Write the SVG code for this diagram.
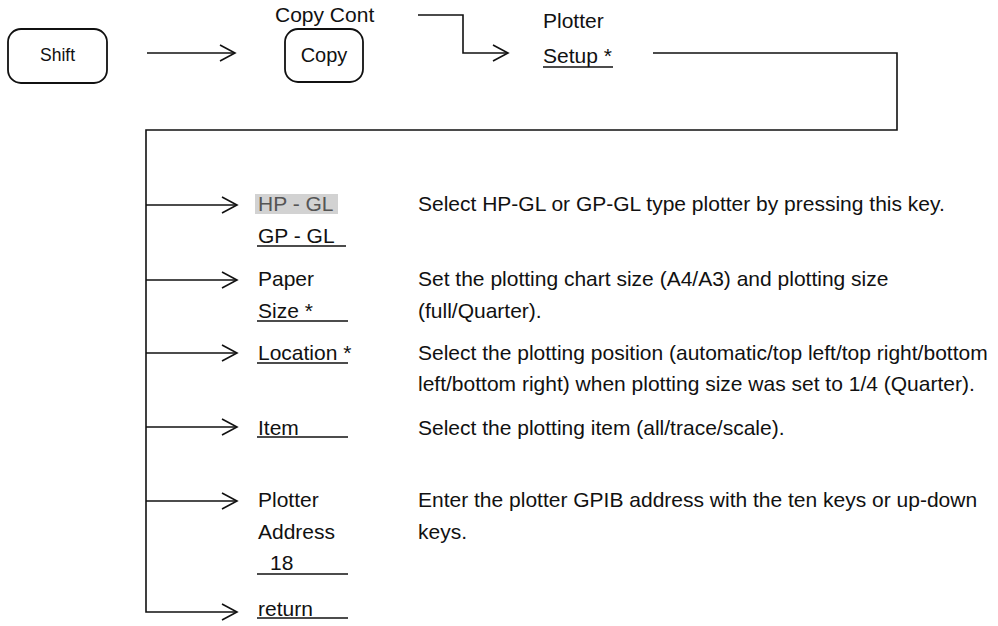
<svg xmlns="http://www.w3.org/2000/svg" width="998" height="626" viewBox="0 0 998 626">
<style>
  text { font-family: "Liberation Sans", Arial, sans-serif; font-size: 21px; fill: #111; }
  .key { fill: #fff; stroke: #111; stroke-width: 1.8; }
  .ln { fill: none; stroke: #111; stroke-width: 1.6; }
  .ul { stroke: #111; stroke-width: 1.5; }
</style>
<defs>
  <marker id="arr" viewBox="0 0 18 18" refX="16" refY="9" markerWidth="18" markerHeight="18" markerUnits="userSpaceOnUse" orient="auto">
    <path d="M1,1 L16,9 L1,17" fill="none" stroke="#111" stroke-width="1.6"/>
  </marker>
</defs>
<rect width="998" height="626" fill="#fff"/>

<g id="connectors">
  <line class="ln" x1="147" y1="53" x2="235" y2="53" marker-end="url(#arr)"/>
  <polyline class="ln" points="418,15 463,15 463,53 508,53" marker-end="url(#arr)"/>
  <polyline class="ln" points="653,53 897,53 897,130 146,130 146,612 237,612" marker-end="url(#arr)"/>
  <line class="ln" x1="146" y1="205" x2="237" y2="205" marker-end="url(#arr)"/>
  <line class="ln" x1="146" y1="280" x2="237" y2="280" marker-end="url(#arr)"/>
  <line class="ln" x1="146" y1="353" x2="237" y2="353" marker-end="url(#arr)"/>
  <line class="ln" x1="146" y1="427" x2="237" y2="427" marker-end="url(#arr)"/>
  <line class="ln" x1="146" y1="501" x2="237" y2="501" marker-end="url(#arr)"/>
</g>

<g id="shift">
  <rect class="key" x="8" y="29" width="99" height="54" rx="13"/>
  <text x="57.5" y="61" text-anchor="middle" style="font-size:17.5px">Shift</text>
</g>

<g id="copy">
  <text x="275" y="22">Copy Cont</text>
  <rect class="key" x="285" y="29" width="78" height="53" rx="13"/>
  <text x="324" y="62" text-anchor="middle" style="font-size:20px">Copy</text>
</g>

<g id="plotter-setup">
  <text x="543" y="28">Plotter</text>
  <text x="543" y="63">Setup *</text>
  <line class="ul" x1="543" y1="67" x2="613" y2="67"/>
</g>

<g id="hpgl">
  <rect x="255" y="194" width="83" height="20" fill="#d2d2d2"/>
  <text x="258" y="211" style="fill:#555">HP - GL</text>
  <text x="258" y="243">GP - GL</text>
  <line class="ul" x1="257" y1="246" x2="346" y2="246"/>
  <text x="418" y="211">Select HP-GL or GP-GL type plotter by pressing this key.</text>
</g>

<g id="paper-size">
  <text x="258" y="286">Paper</text>
  <text x="258" y="318">Size *</text>
  <line class="ul" x1="257" y1="321" x2="348" y2="321"/>
  <text x="418" y="286">Set the plotting chart size (A4/A3) and plotting size</text>
  <text x="418" y="318">(full/Quarter).</text>
</g>

<g id="location">
  <text x="258" y="360">Location *</text>
  <line class="ul" x1="257" y1="363" x2="348" y2="363"/>
  <text x="418" y="360">Select the plotting position (automatic/top left/top right/bottom</text>
  <text x="418" y="391">left/bottom right) when plotting size was set to 1/4 (Quarter).</text>
</g>

<g id="item">
  <text x="258" y="435">Item</text>
  <line class="ul" x1="257" y1="437" x2="348" y2="437"/>
  <text x="418" y="435">Select the plotting item (all/trace/scale).</text>
</g>

<g id="plotter-address">
  <text x="258" y="507">Plotter</text>
  <text x="258" y="539">Address</text>
  <text x="270" y="570">18</text>
  <line class="ul" x1="257" y1="574" x2="348" y2="574"/>
  <text x="418" y="507">Enter the plotter GPIB address with the ten keys or up-down</text>
  <text x="418" y="539">keys.</text>
</g>

<g id="return">
  <text x="258" y="616">return</text>
  <line class="ul" x1="257" y1="618" x2="348" y2="618"/>
</g>
</svg>
